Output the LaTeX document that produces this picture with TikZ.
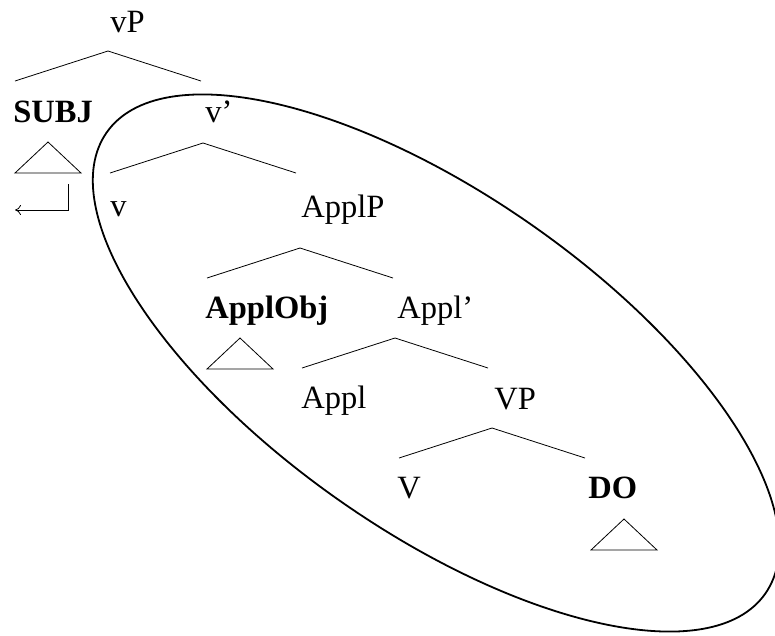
\documentclass[tikz,border=0pt]{standalone}
\usepackage{fontspec}
\setmainfont{Liberation Serif}
\usetikzlibrary{arrows.meta}

\tikzset{
  cat/.style={inner sep=0pt,anchor=base west,font=\fontsize{32.5}{39}\selectfont},
  head/.style={cat,font=\fontsize{32.5}{39}\selectfont\bfseries},
  wedge/.pic={\draw (-93,30) -- (0,0) -- (93,30);},
  roof/.pic={\draw (-33,31) -- (0,0) -- (33,31) -- cycle;}
}

\begin{document}
\begin{tikzpicture}[x=1pt,y=-1pt,line width=0.8pt]
    \useasboundingbox (0,0) rectangle (775,635);
    % labels
    \node[cat]  (vP)      at (110,32)  {vP};
    \node[head] (subj)    at (13,122)  {SUBJ};
    \node[cat]  (vbar)    at (205,122) {v’};
    \node[cat]  (v)       at (110,216) {v};
    \node[cat]  (applP)   at (301,217) {ApplP};
    \node[head] (applobj) at (205,318) {ApplObj};
    \node[cat]  (applbar) at (397,318) {Appl’};
    \node[cat]  (appl)    at (301,408) {Appl};
    \node[cat]  (VP)      at (494,409) {VP};
    \node[cat]  (V)       at (397,498) {V};
    \node[head] (do)      at (588,498) {DO};
    % branches
    \pic at (108,51)  {wedge};
    \pic at (203,143) {wedge};
    \pic at (300,248) {wedge};
    \pic at (395,338) {wedge};
    \pic at (492,428) {wedge};
    % triangles
    \pic at (48,142)  {roof};
    \pic at (240,338) {roof};
    \pic at (624,519) {roof};
    % movement of the subject
    \draw[-{To[length=6pt,width=10pt]}] (68,184) -- (68,210) -- (15,210);
    % domain circled
    \draw[line width=1.8pt] (436,363) ellipse [x radius=402, y radius=168, rotate=-35];
\end{tikzpicture}
\end{document}
